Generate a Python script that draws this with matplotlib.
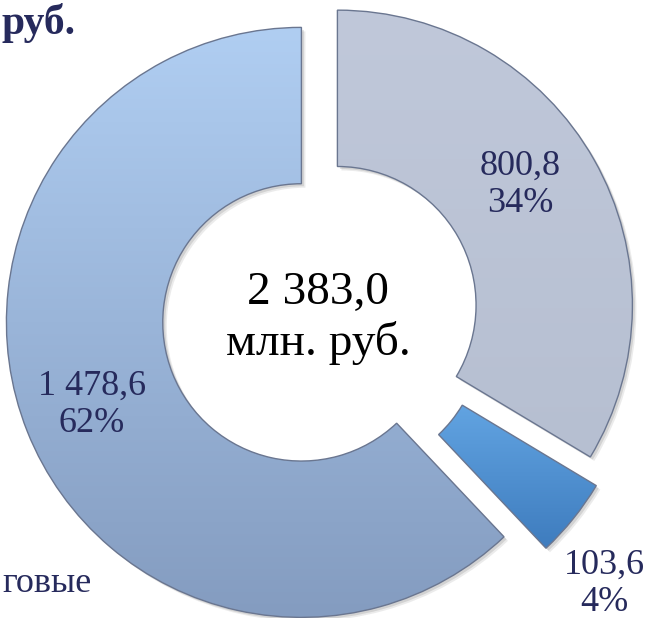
import matplotlib
matplotlib.use("Agg")
import matplotlib.pyplot as plt
from matplotlib.patches import Wedge
import numpy as np

# ---- data ----
categories = ["Категория 1", "Категория 2", "Налоговые"]
values = [800.8, 103.6, 1478.6]
unit_label = "млн. руб."
title_text = "руб."
legend_fragment = "говые"

# ---- style ----
navy = "#262a5c"
top_cols = [(192, 200, 218), (98, 164, 226), (176, 206, 242)]
bot_cols = [(182, 191, 209), (62, 124, 190), (132, 156, 192)]
explode_px = [20, 30, 20]

W, H = 652, 618
fig = plt.figure(figsize=(W / 100, H / 100), dpi=100)
ax = fig.add_axes([0, 0, 1, 1])

cx, cy, R = 320, 303, 295
total = sum(values)

def fmt(v):
    s = f"{v:,.1f}".replace(",", " ").replace(".", ",")
    return s

wedges, _ = ax.pie(values, startangle=90, counterclock=False,
                   explode=explode_px, radius=R, center=(cx, cy),
                   wedgeprops=dict(width=R * 0.53, linewidth=1.0,
                                   edgecolor="#6a7690"),
                   colors=["none"] * 3)

for w, tc, bc in zip(wedges, top_cols, bot_cols):
    # soft shadow
    for off, a in [(4, 0.10), (2.5, 0.15)]:
        sh = Wedge((w.center[0] + off, w.center[1] - off), w.r, w.theta1, w.theta2,
                   width=w.width, facecolor="#444444", edgecolor="none",
                   alpha=a, zorder=0.5)
        ax.add_patch(sh)
    grad = np.linspace(0, 1, 256)[:, None]
    tc_a = np.array(tc) / 255.0
    bc_a = np.array(bc) / 255.0
    img = tc_a[None, None, :] * (1 - grad[:, :, None]) + bc_a[None, None, :] * grad[:, :, None]
    img = np.repeat(img, 2, axis=1)
    ext = w.get_path().get_extents()
    im = ax.imshow(img, extent=(ext.x0, ext.x1, ext.y0, ext.y1),
                   origin="upper", aspect="auto", zorder=1)
    im.set_clip_path(w)
    w.set_zorder(2)

ax.set_xlim(0, W)
ax.set_ylim(0, H)
ax.set_aspect("equal")
ax.axis("off")

serif = ["Liberation Serif", "DejaVu Serif"]

# value labels
label_pos = [(520, 185), (604, 584), (92, 405)]
for v, (px, py) in zip(values, label_pos):
    pct = round(v / total * 100)
    ax.text(px, H - py, f"{fmt(v)}\n{pct}%", ha="center", va="center",
            fontsize=26, color=navy, family=serif, linespacing=1.15, zorder=5)

# center text
ax.text(318, H - 318, f"{fmt(total)}\n{unit_label}", ha="center", va="center",
        fontsize=34, color="black", family=serif, linespacing=1.2, zorder=5)

# cropped fragments
ax.text(2, H - 34, title_text, ha="left", va="baseline", fontsize=30,
        fontweight="bold", color=navy, family=serif)
ax.text(2, H - 592, legend_fragment, ha="left", va="baseline", fontsize=26,
        color=navy, family=serif)

fig.savefig("out.png", dpi=100)
